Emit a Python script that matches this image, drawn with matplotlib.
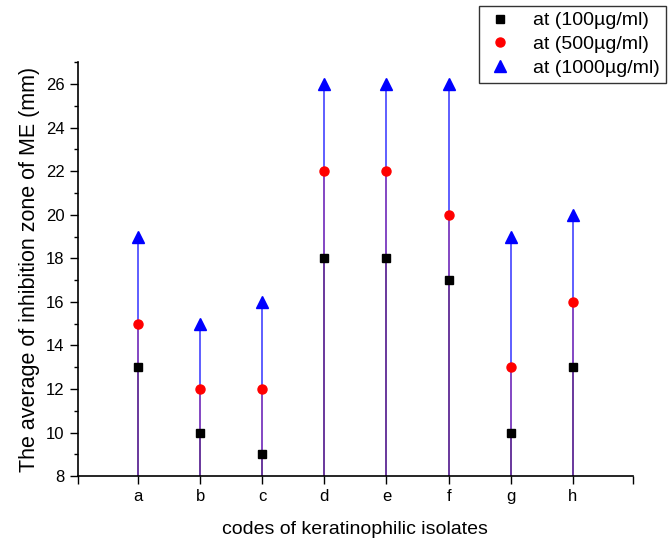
import matplotlib
matplotlib.use("Agg")
import matplotlib.pyplot as plt
from matplotlib.ticker import MultipleLocator

plt.rcParams['font.family'] = ['Liberation Sans', 'DejaVu Sans']

# isolate codes and inhibition zones (mm)
codes = ['a', 'b', 'c', 'd', 'e', 'f', 'g', 'h']
c100 = [13, 10, 9, 18, 18, 17, 10, 13]
c500 = [15, 12, 12, 22, 22, 20, 13, 16]
c1000 = [19, 15, 16, 26, 26, 26, 19, 20]

x = list(range(1, len(codes) + 1))
base = 8

fig = plt.figure(figsize=(6.7, 5.46), dpi=100)
ax = fig.add_axes([0.116, 0.128, 0.829, 0.758])

# drop lines
ax.vlines(x, base, c1000, colors='#0000ff', lw=1.1, alpha=0.8, zorder=1)
ax.vlines(x, base, c500, colors='#ff0000', lw=1.1, alpha=0.3, zorder=2)
ax.vlines(x, base, c100, colors='#000000', lw=1.1, alpha=0.25, zorder=3)

ax.plot(x, c100, 's', color='black', ms=5.5, ls='none', label='at (100µg/ml)', zorder=5)
ax.plot(x, c500, 'o', color='red', ms=6.5, ls='none', label='at (500µg/ml)', zorder=5)
ax.plot(x, c1000, '^', color='blue', ms=8, ls='none', label='at (1000µg/ml)', zorder=5)

ax.set_xlim(0.03, 8.97)
ax.set_ylim(8, 27)
ax.set_xticks([0.03] + x + [8.97])
ax.set_xticklabels([''] + codes + [''])
ax.yaxis.set_major_locator(MultipleLocator(2))
ax.yaxis.set_minor_locator(MultipleLocator(1))
ax.tick_params(axis='both', direction='out', labelsize=12, length=6, width=1)
ax.tick_params(axis='y', which='minor', direction='out', length=3, width=1)

for s in ['top', 'right']:
    ax.spines[s].set_visible(False)
for s in ['left', 'bottom']:
    ax.spines[s].set_linewidth(1.2)

ax.set_xlabel('codes of keratinophilic isolates', fontsize=14, labelpad=12)
ax.set_ylabel('The average of inhibition zone of ME (mm)', fontsize=15.5, labelpad=4)

leg = fig.legend(loc='upper right', bbox_to_anchor=(0.994, 0.989), fontsize=14,
                 frameon=True, fancybox=False, edgecolor='black',
                 handlelength=1.6, handletextpad=0.9, borderpad=0.3,
                 labelspacing=0.32, borderaxespad=0)
leg.get_frame().set_linewidth(1)

fig.savefig('out.png', dpi=100)
